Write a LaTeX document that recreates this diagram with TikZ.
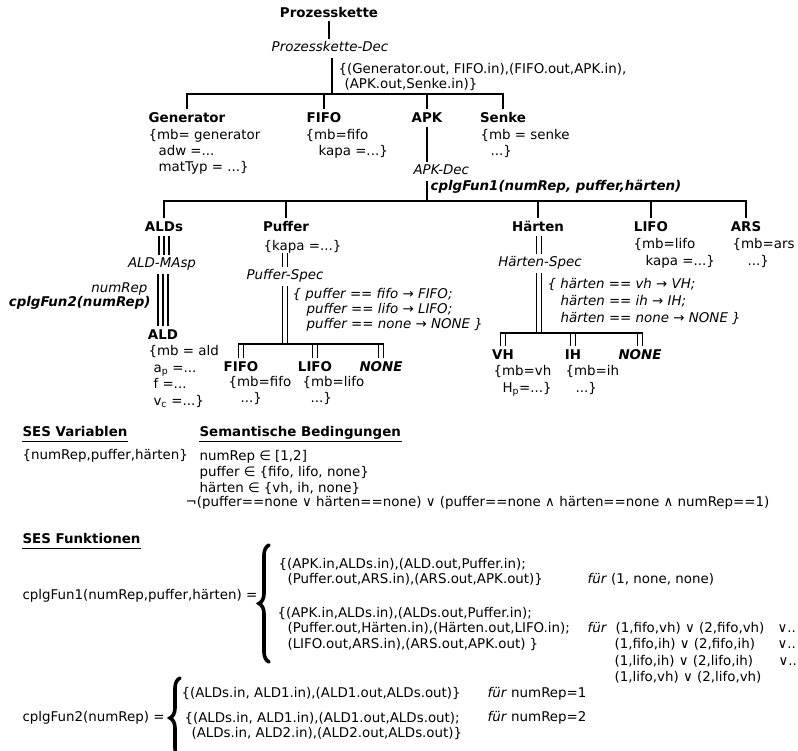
\documentclass[tikz,border=0pt]{standalone}
\usepackage{fontspec}
\setmainfont{DejaVu Sans}
\usetikzlibrary{decorations.pathreplacing,calc}
\newcommand\myra{{\upshape →}}
\newcommand\fuer{\textit{für}}
\newcommand\fsz[1]{\fontsize{13.4}{#1}\selectfont}
\begin{document}
\begin{tikzpicture}[x=1pt,y=-1pt,line width=1.1pt,line cap=rect,
  every node/.style={font=\fsz{16}},
  lbl/.style={font=\fsz{16}\bfseries,inner xsep=0pt,inner ysep=4pt,anchor=base,text height=9.7pt,text depth=0pt},
  lbi/.style={lbl,font=\fsz{16}\bfseries\itshape},
  dec/.style={font=\fsz{16}\itshape,inner xsep=0pt,inner ysep=3pt,anchor=base,text height=9.7pt,text depth=3pt},
  attr/.style={align=left,inner sep=0pt,anchor=north west},
  txt/.style={inner sep=0pt,anchor=base west},
  brc/.style={decorate,decoration={brace,amplitude=10pt},line width=3.6pt,line cap=round},
  uline/.style={line width=1.3pt,line cap=butt}]
\useasboundingbox (0,0) rectangle (798,750);
% ---------- top level
\node[lbl] (Proz) at (329,17) {Prozesskette};
\node[dec] (ProzDec) at (330,51.5) {Prozesskette-Dec};
\node[attr,font=\fsz{15}] (TopC) at (338,62.6) {\{(Generator.out, FIFO.in),(FIFO.out,APK.in),\\\hspace*{6pt}(APK.out,Senke.in)\}};
\coordinate (J1) at (332,94);
\node[lbl] (Gen) at (187,122.5) {Generator};
\node[attr] (GenA) at (148,128.6) {\{mb= generator\\\hspace*{10pt}adw =...\\\hspace*{10pt}matTyp = ...\}};
\node[lbl] (FIFOa) at (324,122.5) {FIFO};
\node[attr] (FIFOaA) at (305,128.6) {\{mb=fifo\\\hspace*{13pt}kapa =...\}};
\node[lbl] (APK) at (427,122.5) {APK};
\node[lbl] (Senke) at (503,122.5) {Senke};
\node[attr] (SenkeA) at (480,128.6) {\{mb = senke\\\hspace*{10pt}...\}};
\node[dec,anchor=base west] (APKDec) at (413,174.5) {APK-Dec};
\node[txt,font=\fsz{16}\bfseries\itshape] (CF1) at (430,190.5) {cplgFun1(numRep, puffer,härten)};
\coordinate (J2) at (427,201);
\draw (Proz.south) -- (Proz.south |- ProzDec.north);
\draw (ProzDec.south -| J1) -- (J1);
\draw (Gen.north) -- (Gen.north |- J1) -- (Senke.north |- J1) -- (Senke.north);
\draw (FIFOa.north) -- (FIFOa.north |- J1);
\draw (APK.north) -- (APK.north |- J1);
\draw (APK.south) -- (APK.south |- APKDec.north);
\draw (APKDec.south -| J2) -- (J2);
% ---------- level 2
\node[lbl] (ALDs) at (164,231.5) {ALDs};
\node[lbl] (Puffer) at (286,231.5) {Puffer};
\node[lbl] (Haerten) at (538,231.5) {Härten};
\node[lbl] (LIFOa) at (651,231.5) {LIFO};
\node[lbl] (ARS) at (746,231.5) {ARS};
\draw (ALDs.north) -- (ALDs.north |- J2) -- (ARS.north |- J2) -- (ARS.north);
\foreach \n in {Puffer,Haerten,LIFOa} \draw (\n.north) -- (\n.north |- J2);
\node[attr,font=\fsz{17}] (LIFOaA) at (633,237.6) {\{mb=lifo\\\hspace*{12pt}kapa =...\}};
\node[attr,font=\fsz{17}] (ARSA) at (732,237.6) {\{mb=ars\\\hspace*{15pt}...\}};
% ---------- ALDs
\node[dec] (ALDMAsp) at (162,267.5) {ALD-MAsp};
\node[lbl] (ALD) at (163,339.5) {ALD};
\node[attr,font=\fsz{16.7}] (ALDA) at (148,344.6) {\{mb = ald\\\hspace*{5pt}a\textsubscript{p} =...\\\hspace*{5pt}f =...\\\hspace*{5pt}v\textsubscript{c} =...\}};
\node[txt,anchor=base east,font=\fsz{16}\itshape] (NR) at (148,292.5) {numRep};
\node[txt,anchor=base east,font=\fsz{16}\bfseries\itshape] (CF2) at (151,306.5) {cplgFun2(numRep)};
\foreach \d in {-5,0,5} {
  \draw ($(ALDs.south)+(\d,0)$) -- ($(ALDs.south |- ALDMAsp.north)+(\d,0)$);
  \draw ($(ALDMAsp.south -| ALD.north)+(\d,0)$) -- ($(ALD.north)+(\d,0)$);
}
% ---------- Puffer
\node[attr] (PufferA) at (263,239.6) {\{kapa =...\}};
\node[dec] (PufferSpec) at (285,279.5) {Puffer-Spec};
\node[attr,font=\fsz{15}\itshape] (PufferC) at (292,287.6) {\{ puffer == fifo \myra{} FIFO;\\\hspace*{14pt}puffer == lifo \myra{} LIFO;\\\hspace*{14pt}puffer == none \myra{} NONE \}};
\coordinate (J3) at (285,344);
\foreach \d in {-2.5,2.5} {
  \draw ($(PufferA.south -| PufferSpec.north)+(\d,0)$) -- ($(PufferSpec.north)+(\d,0)$);
  \draw ($(PufferSpec.south -| J3)+(\d,0)$) -- ($(J3)+(\d,0)$);
}
\node[lbl] (FIFOb) at (241,371.5) {FIFO};
\node[lbl] (LIFOb) at (315,371.5) {LIFO};
\node[lbi] (NONEa) at (381,371.5) {NONE};
\node[attr] (FIFObA) at (228,375.6) {\{mb=fifo\\\hspace*{12pt}...\}};
\node[attr] (LIFObA) at (302,375.6) {\{mb=lifo\\\hspace*{8pt}...\}};
\draw ($(FIFOb.north |- J3)+(-2.5,0)$) -- ($(NONEa.north |- J3)+(2.5,0)$);
\foreach \n in {FIFOb,LIFOb,NONEa} \foreach \d in {-2.5,2.5}
  \draw ($(\n.north |- J3)+(\d,0)$) -- ($(\n.north)+(\d,0)$);
% ---------- Haerten
\node[dec] (HSpec) at (540,266.5) {Härten-Spec};
\node[attr,font=\fsz{17}\itshape] (HC) at (547,277.6) {\{ härten == vh \myra{} VH;\\\hspace*{13pt}härten == ih \myra{} IH;\\\hspace*{13pt}härten == none \myra{} NONE \}};
\coordinate (J4) at (539,333);
\foreach \d in {-2.5,2.5} {
  \draw ($(Haerten.south -| J4)+(\d,0)$) -- ($(HSpec.north -| J4)+(\d,0)$);
  \draw ($(HSpec.south -| J4)+(\d,0)$) -- ($(J4)+(\d,0)$);
}
\node[lbl] (VH) at (503,359.5) {VH};
\node[lbl] (IH) at (573,359.5) {IH};
\node[lbi] (NONEb) at (640,359.5) {NONE};
\node[attr,font=\fsz{17}] (VHA) at (493,364.6) {\{mb=vh\\\hspace*{9pt}H\textsubscript{p}=...\}};
\node[attr,font=\fsz{17}] (IHA) at (565,364.6) {\{mb=ih\\\hspace*{10pt}...\}};
\draw ($(VH.north |- J4)+(-2.5,0)$) -- ($(NONEb.north |- J4)+(2.5,0)$);
\foreach \n in {VH,IH,NONEb} \foreach \d in {-2.5,2.5}
  \draw ($(\n.north |- J4)+(\d,0)$) -- ($(\n.north)+(\d,0)$);
% ---------- SES Variablen / Bedingungen
\node[txt,font=\fsz{16}\bfseries] (SV) at (22,436.5) {SES Variablen};
\node[txt,font=\fsz{16}\bfseries] (SB) at (199,436.5) {Semantische Bedingungen};
\draw[uline] ([yshift=-5pt]SV.base west) -- ([yshift=-5pt]SV.base east);
\draw[uline] ([yshift=-5pt]SB.base west) -- ([yshift=-5pt]SB.base east);
\node[txt] (SVv) at (22,459.5) {\{numRep,puffer,härten\}};
\node[attr] (SBc) at (199,449.6) {numRep ∈ [1,2]\\puffer ∈ \{fifo, lifo, none\}\\härten ∈ \{vh, ih, none\}};
\node[txt] (SBn) at (185,506.5) {¬(puffer==none ∨ härten==none) ∨ (puffer==none ∧ härten==none ∧ numRep==1)};
% ---------- SES Funktionen
\node[txt,font=\fsz{16}\bfseries] (SF) at (22,543.5) {SES Funktionen};
\draw[uline] ([yshift=-5pt]SF.base west) -- ([yshift=-5pt]SF.base east);
\node[txt] (F1) at (22,599.5) {cplgFun1(numRep,puffer,härten) =};
\coordinate (B1t) at (269,545);
\coordinate (B1b) at (269,662);
\draw[brc] (B1b) -- (B1t);
\node[attr,font=\fsz{15}] (C1a) at (278,557.6) {\{(APK.in,ALDs.in),(ALD.out,Puffer.in);\\\hspace*{9pt}(Puffer.out,ARS.in),(ARS.out,APK.out)\}};
\node[attr,font=\fsz{15.5}] (C1b) at (277,606.6) {\{(APK.in,ALDs.in),(ALDs.out,Puffer.in);\\\hspace*{10pt}(Puffer.out,Härten.in),(Härten.out,LIFO.in);\\\hspace*{10pt}(LIFO.out,ARS.in),(ARS.out,APK.out) \}};
\node[txt] (Fuer1) at (587,583.5) {\fuer{} (1, none, none)};
\node[attr,font=\fsz{16.5}] (Fuer2) at (587,621.6) {\makebox[28pt][l]{\fuer}\makebox[162pt][l]{(1,fifo,vh) ∨ (2,fifo,vh)}∨..\\
\hspace*{27pt}\makebox[163pt][l]{(1,fifo,ih) ∨ (2,fifo,ih)}∨..\\
\hspace*{27pt}\makebox[164pt][l]{(1,lifo,ih) ∨ (2,lifo,ih)}∨..\\
\hspace*{27pt}(1,lifo,vh) ∨ (2,lifo,vh)};
\node[txt] (F2) at (22,721.5) {cplgFun2(numRep) =};
\coordinate (B2t) at (180,678);
\coordinate (B2b) at (180,758);
\draw[brc] (B2b) -- (B2t);
\node[txt] (C2a) at (181,697.5) {\{(ALDs.in, ALD1.in),(ALD1.out,ALDs.out)\}};
\node[attr,font=\fsz{15.5}] (C2b) at (184,711.6) {\{(ALDs.in, ALD1.in),(ALD1.out,ALDs.out);\\\hspace*{7pt}(ALDs.in, ALD2.in),(ALD2.out,ALDs.out)\}};
\node[txt] (Fuer3) at (487,697.5) {\fuer{} numRep=1};
\node[txt] (Fuer4) at (487,721.5) {\fuer{} numRep=2};
\end{tikzpicture}
\end{document}
